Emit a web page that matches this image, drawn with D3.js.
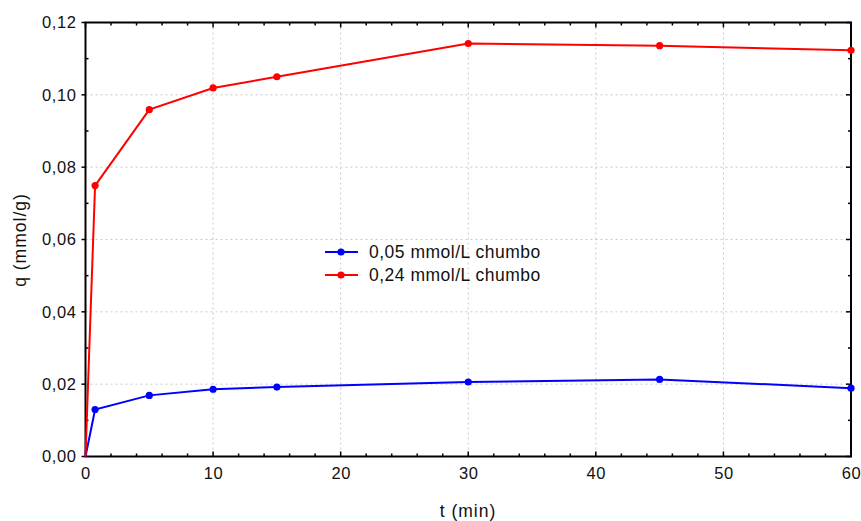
<!DOCTYPE html>
<html><head><meta charset="utf-8">
<script src="https://cdn.jsdelivr.net/npm/d3@7"></script>
<style>body{margin:0;background:#fff;}svg{display:block;font-family:"Liberation Sans",Arial,sans-serif;}</style>
</head><body><svg id="c" width="861" height="521"></svg>
<script>
const times = [0, 0.75, 5, 10, 15, 30, 45, 60];
const seriesNames = ["0,05 mmol/L chumbo", "0,24 mmol/L chumbo"];
const seriesLow = [0, 0.0130, 0.0169, 0.0186, 0.0192, 0.0206, 0.0213, 0.0189];
const seriesHigh = [0, 0.0749, 0.0959, 0.1019, 0.1050, 0.1142, 0.1136, 0.1123];
const seriesColors = ["#0000ff", "#ff0000"];
const xTicks = [0, 10, 20, 30, 40, 50, 60];
const yTicks = [0, 0.02, 0.04, 0.06, 0.08, 0.10, 0.12];

const svg = d3.select("#c");
const L = 85.5, R = 851, T = 22.5, B = 456.5;
const x = d3.scaleLinear().domain([0, 60]).range([L, R]);
const y = d3.scaleLinear().domain([0, 0.12]).range([B, T]);
const fmtY = d => d3.format(".2f")(d).replace(".", ",");

// grid
const grid = svg.append("g").attr("stroke", "#c8c8c8").attr("stroke-width", 1).attr("stroke-dasharray", "2,3");
xTicks.slice(1, -1).forEach(t => grid.append("line").attr("x1", x(t)).attr("x2", x(t)).attr("y1", T).attr("y2", B));
yTicks.slice(1, -1).forEach(t => grid.append("line").attr("x1", L).attr("x2", R).attr("y1", y(t)).attr("y2", y(t)));

// axes with D3 (labels), frame drawn after
const xAxis = svg.append("g").attr("transform", `translate(0,${B})`)
  .call(d3.axisBottom(x).tickValues(xTicks).tickSize(0).tickPadding(11).tickFormat(d3.format("d")));
const yAxis = svg.append("g").attr("transform", `translate(${L},0)`)
  .call(d3.axisLeft(y).tickValues(yTicks).tickSize(0).tickPadding(9).tickFormat(fmtY));
[xAxis, yAxis].forEach(a => { a.select(".domain").remove(); a.selectAll("text").attr("font-size", 16.5).attr("fill", "#111").attr("letter-spacing", 0.6).attr("font-family", "Liberation Sans, Arial, sans-serif"); });

// ticks
const tk = svg.append("g").attr("stroke", "#000").attr("stroke-width", 1.5);
const xMinor = d3.range(0, 60.01, 2);
xMinor.forEach(t => {
  const len = (t % 10 === 0) ? 5 : 3;
  tk.append("line").attr("x1", x(t)).attr("x2", x(t)).attr("y1", B).attr("y2", B - len);
  tk.append("line").attr("x1", x(t)).attr("x2", x(t)).attr("y1", T).attr("y2", T + len);
});
const yMinor = d3.range(0, 0.1201, 0.01);
yMinor.forEach((t, i) => {
  const major = i % 2 === 0;
  if (major) tk.append("line").attr("x1", L - 4).attr("x2", L).attr("y1", y(t)).attr("y2", y(t));
  else tk.append("line").attr("x1", L).attr("x2", L + 3).attr("y1", y(t)).attr("y2", y(t));
  const len = major ? 5 : 3;
  tk.append("line").attr("x1", R).attr("x2", R - len).attr("y1", y(t)).attr("y2", y(t));
});

// frame
svg.append("rect").attr("x", L).attr("y", T).attr("width", R - L).attr("height", B - T)
  .attr("fill", "none").attr("stroke", "#000").attr("stroke-width", 2);

// series
const plot = svg.append("g");
[seriesLow, seriesHigh].forEach((vals, si) => {
  const pts = times.map((t, i) => [t, vals[i]]);
  plot.append("path").datum(pts)
    .attr("d", d3.line().x(d => x(d[0])).y(d => y(d[1])))
    .attr("fill", "none").attr("stroke", seriesColors[si]).attr("stroke-width", 2);
  plot.selectAll(null).data(pts.slice(1)).enter().append("circle")
    .attr("cx", d => x(d[0])).attr("cy", d => y(d[1])).attr("r", 3.6).attr("fill", seriesColors[si]);
});

// legend
const lg = svg.append("g");
seriesNames.forEach((n, i) => {
  const ly = 252 + i * 23;
  lg.append("line").attr("x1", 325).attr("x2", 358).attr("y1", ly).attr("y2", ly)
    .attr("stroke", seriesColors[i]).attr("stroke-width", 2);
  lg.append("circle").attr("cx", 341).attr("cy", ly).attr("r", 3.6).attr("fill", seriesColors[i]);
  lg.append("text").attr("x", 369).attr("y", ly + 6).attr("font-size", 17.5).attr("letter-spacing", 0.5).attr("fill", "#111").text(n);
});

// axis titles
svg.append("text").attr("x", 468).attr("y", 517).attr("text-anchor", "middle").attr("font-size", 17.5).attr("letter-spacing", 1).attr("fill", "#111").text("t (min)");
svg.append("text").attr("transform", "translate(26,240) rotate(-90)").attr("text-anchor", "middle").attr("font-size", 17.5).attr("letter-spacing", 1).attr("fill", "#111").text("q (mmol/g)");
</script></body></html>
